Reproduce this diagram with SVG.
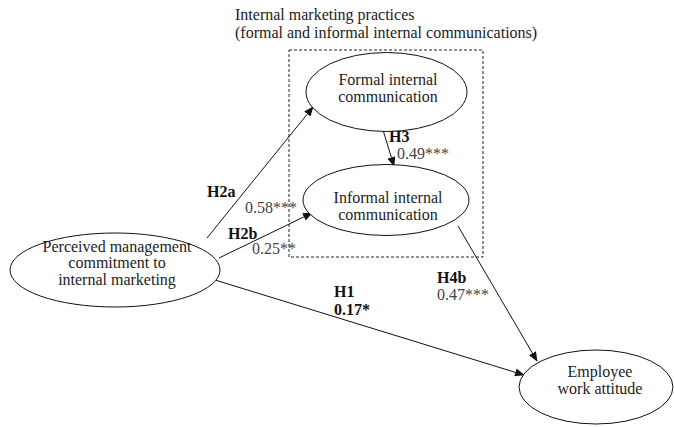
<svg xmlns="http://www.w3.org/2000/svg" width="674" height="427" viewBox="0 0 674 427">
<style>
text{font-family:"Liberation Serif","Times New Roman",serif;font-size:16px;fill:#222}
.c{text-anchor:middle}
.b{font-weight:bold;fill:#111}
.n{fill:#444}
ellipse{fill:#fff;stroke:#111;stroke-width:1}
.e{stroke:#111;stroke-width:1;fill:none;marker-end:url(#ah)}
</style>
<defs>
<marker id="ah" markerWidth="10" markerHeight="8" refX="9" refY="4" orient="auto" markerUnits="userSpaceOnUse">
<path d="M0,0 L10,4 L0,8 Z" fill="#111"/>
</marker>
</defs>
<g id="group-box">
<rect x="289" y="50" width="194" height="207" fill="none" stroke="#222" stroke-width="1" stroke-dasharray="3,2"/>
<text x="235" y="20">Internal marketing practices</text>
<text x="235" y="38">(formal and informal internal communications)</text>
</g>
<g id="connectors">
<line class="e" x1="207" y1="238" x2="313" y2="107"/>
<line class="e" x1="219" y1="258" x2="312" y2="213"/>
<line class="e" x1="383" y1="130" x2="394" y2="166"/>
<line class="e" x1="215" y1="280" x2="524" y2="375"/>
<line class="e" x1="458" y1="226" x2="537" y2="361"/>
<text class="b" x="207" y="197">H2a</text>
<text class="n" x="245" y="213">0.58***</text>
<text class="b" x="228" y="239">H2b</text>
<text class="n" x="252" y="254">0.25**</text>
<text class="b" x="389" y="142">H3</text>
<text class="n" x="397" y="159">0.49***</text>
<text class="b" x="334" y="297">H1</text>
<text class="b" x="334" y="315">0.17*</text>
<text class="b" x="437" y="283">H4b</text>
<text class="n" x="437" y="300">0.47***</text>
</g>
<g id="formal">
<ellipse cx="386.5" cy="92" rx="80.5" ry="39.5"/>
<text class="c" x="388" y="85">Formal internal</text>
<text class="c" x="388" y="102">communication</text>
</g>
<g id="informal">
<ellipse cx="386" cy="200" rx="83" ry="35.5"/>
<text class="c" x="388" y="203">Informal internal</text>
<text class="c" x="388" y="220">communication</text>
</g>
<g id="perceived">
<ellipse cx="115" cy="270" rx="105" ry="37"/>
<text class="c" x="117" y="252">Perceived management</text>
<text class="c" x="117" y="268">commitment to</text>
<text class="c" x="117" y="285">internal marketing</text>
</g>
<g id="employee">
<ellipse cx="596" cy="387" rx="77" ry="37"/>
<text class="c" x="600" y="377">Employee</text>
<text class="c" x="600" y="394">work attitude</text>
</g>
</svg>
